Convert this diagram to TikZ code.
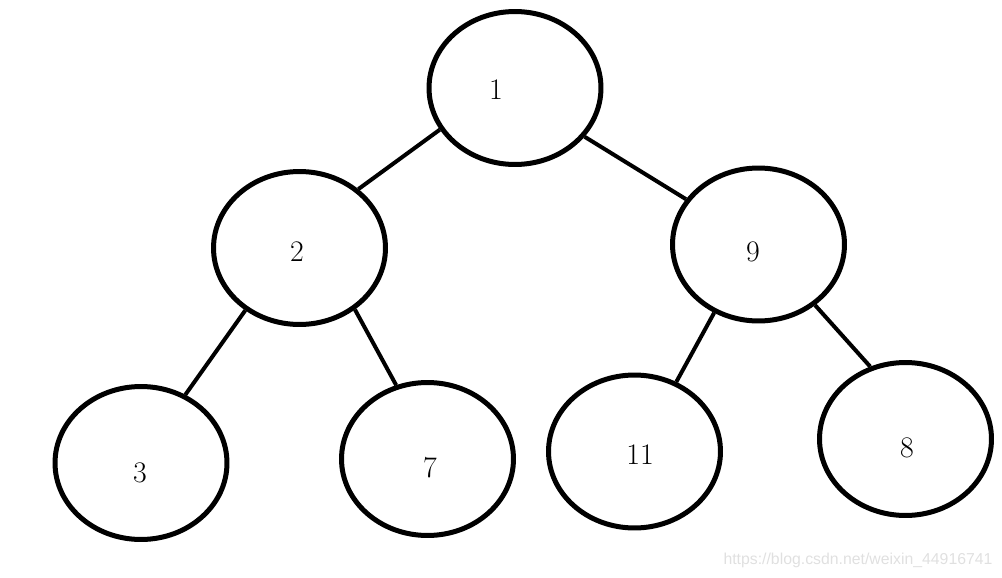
\documentclass[tikz,border=0pt]{standalone}
\usepackage{fontspec}
\newfontfamily\markfont{Liberation Sans}
\usetikzlibrary{shapes.geometric}

\begin{document}
\begin{tikzpicture}[x=0.02cm, y=-0.02cm,
	every node/.style={font=\fontsize{17}{20}\selectfont},
	heapnode/.style={draw, ellipse, line width=0.1cm, inner sep=0pt,
		minimum width=3.44cm, minimum height=3.06cm},
	heapedge/.style={line width=0.08cm}]
	\useasboundingbox (0,0) rectangle (1002,578);
	% ellipses and their numbers
	\foreach \n/\x/\y/\tx/\ty in {1/515/88/496/90, 2/299.5/248/297/252, 9/758.5/244.5/753/252,
		3/141/463/140/473, 7/427.5/459/430/468, 11/634.5/451.5/640/455, 8/905.5/439/907/448} {
		\node[heapnode] (n\n) at (\x,\y) {};
		\node (t\n) at (\tx,\ty) {\n};
	}
	% edges
	\foreach \a/\b/\s/\e in {1/2/209.2/45.2, 1/9/325.8/148.8, 2/3/229.4/57.7,
		2/7/312.5/113.2, 9/11/237.5/59.4, 9/8/313/116.7}
		\draw[heapedge] (n\a.\s) -- (n\b.\e);
	\node[font=\markfont\fontsize{9}{11}\selectfont, text=black!12] (mark) at (858,560) {https://blog.csdn.net/weixin\_44916741};
\end{tikzpicture}
\end{document}
